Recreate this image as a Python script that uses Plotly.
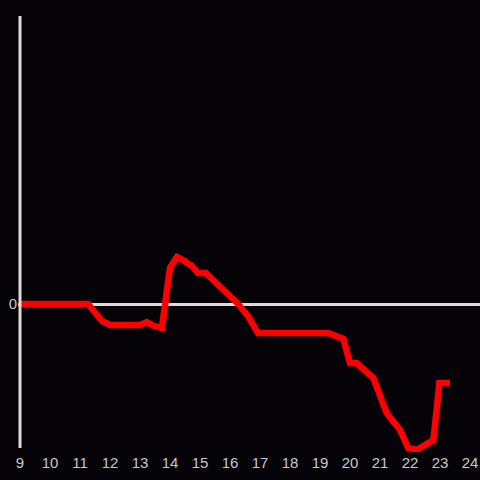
import plotly.graph_objects as go

# hour of day vs value (zero-centred)
hours = [9.0, 11.27, 11.73, 12.0, 13.0, 13.23, 13.47, 13.73, 14.0, 14.23, 14.43,
         14.73, 14.93, 15.2, 15.47, 15.93, 16.27, 16.6, 16.93, 19.28, 19.78,
         20.0, 20.22, 20.78, 21.0, 21.22, 21.67, 21.94, 22.22, 22.78, 22.98, 23.33]
values = [0, 0, -17, -21, -21, -18, -22, -24, 36, 47, 44,
          38, 31, 31, 23, 10, 0, -12, -29, -29, -35,
          -59, -59, -74, -93, -109, -126, -144, -146, -136, -79, -79]

x_ticks = list(range(9, 25))
y_bottom, y_top = -144, 288

BG = "#050307"
AXIS = "#dcdcdc"
TEXT = "#c8c8c8"

fig = go.Figure()
fig.add_trace(go.Scatter(
    x=hours,
    y=values,
    mode="lines",
    line=dict(color="#ff0000", width=6.5),
    hoverinfo="skip",
    showlegend=False,
))

# vertical axis line drawn as a shape so the plot area can sit a bit lower
fig.add_shape(type="line", xref="x", yref="y", x0=9, x1=9, y0=y_bottom, y1=y_top,
              line=dict(color=AXIS, width=3), layer="above")

fig.update_layout(
    width=480,
    height=480,
    margin=dict(l=18, r=0, t=16, b=28),
    paper_bgcolor=BG,
    plot_bgcolor=BG,
    font=dict(family="Liberation Sans, Arial, sans-serif", size=15, color=TEXT),
    xaxis=dict(
        range=[9 - 2 / 30, 24.333],
        tickvals=x_ticks,
        ticktext=[str(t) for t in x_ticks],
        showgrid=False,
        zeroline=False,
        showline=False,
        ticks="",
        fixedrange=True,
    ),
    yaxis=dict(
        range=[y_bottom - 4, y_top],
        tickvals=[0],
        ticktext=["0"],
        showgrid=False,
        zeroline=True,
        zerolinecolor=AXIS,
        zerolinewidth=3,
        showline=False,
        ticks="",
        fixedrange=True,
    ),
)

# drop the browser's default page margin so the 480px figure fills the window
fig.write_html(
    "out.html",
    config={"displayModeBar": False},
    post_script="document.body.style.margin='0';document.body.style.background='%s';" % BG,
)
